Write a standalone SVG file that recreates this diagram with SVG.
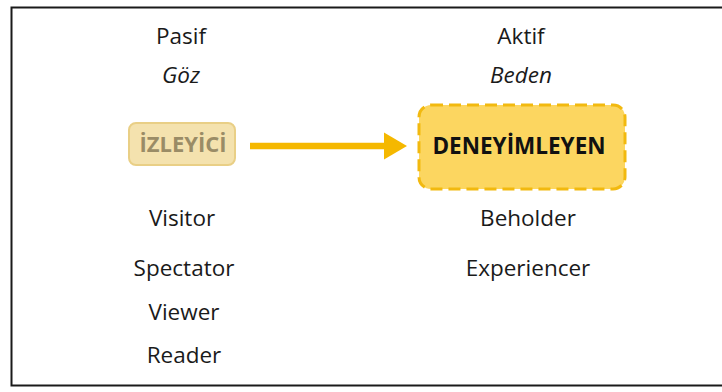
<svg xmlns="http://www.w3.org/2000/svg" width="722" height="392" viewBox="0 0 722 392">
<defs>
<style>
.t{font-family:"Open Sans","Liberation Sans",sans-serif;font-size:22.5px;fill:#1a1a1a;text-anchor:middle}
.i{font-style:italic}
</style>
</defs>
<rect x="11.5" y="7.5" width="730" height="378" fill="#ffffff" stroke="#1a1a1a" stroke-width="2"/>
<g id="labels-left">
<text class="t" x="181" y="44">Pasif</text>
<text class="t i" x="181" y="83">Göz</text>
<text class="t" x="182" y="226">Visitor</text>
<text class="t" x="184" y="276">Spectator</text>
<text class="t" x="184" y="320">Viewer</text>
<text class="t" x="184" y="363">Reader</text>
</g>
<g id="labels-right">
<text class="t" x="521" y="44">Aktif</text>
<text class="t i" x="521" y="83">Beden</text>
<text class="t" x="528" y="226">Beholder</text>
<text class="t" x="528" y="276">Experiencer</text>
</g>
<g id="node-izleyici">
<rect x="129" y="123" width="106" height="42" rx="7" fill="#f4e2ae" stroke="#e9cf86" stroke-width="2"/>
<text x="183" y="152" font-family="Open Sans,Liberation Sans,sans-serif" font-size="22" font-weight="bold" fill="#9a8c66" text-anchor="middle">İZLEYİCİ</text>
</g>
<g id="node-deneyimleyen">
<rect x="419" y="105" width="206" height="84" rx="12" fill="#fcd660" stroke="#f2b90f" stroke-width="3" stroke-dasharray="12,6"/>
<text x="519" y="154" font-family="Open Sans,Liberation Sans,sans-serif" font-size="22.5" font-weight="bold" fill="#111" text-anchor="middle">DENEYİMLEYEN</text>
</g>
<g id="connectors">
<line x1="250" y1="146" x2="390" y2="146" stroke="#f5b800" stroke-width="6.5"/>
<path d="M384,132.5 L407,146 L384,159.5 z" fill="#f5b800"/>
</g>
</svg>
